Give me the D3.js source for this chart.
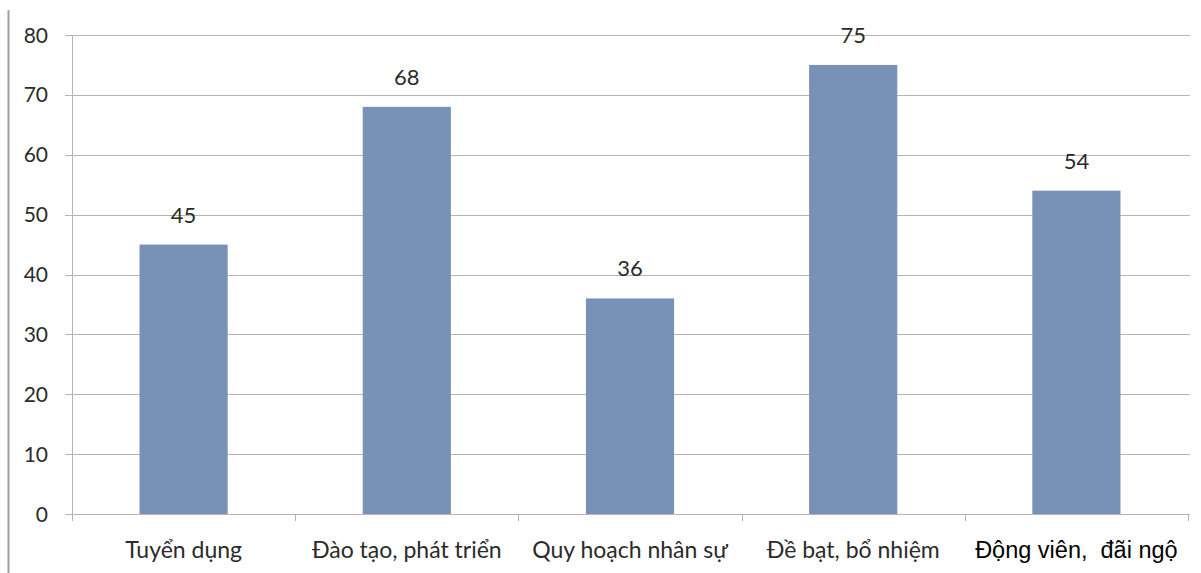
<!DOCTYPE html>
<html>
<head>
<meta charset="utf-8">
<script src="https://cdn.jsdelivr.net/npm/d3@7"></script>
<style>
  html, body { margin: 0; padding: 0; background: #fff; }
  svg { display: block; }
</style>
</head>
<body>
<svg id="chart" width="1201" height="573"></svg>
<script>
// Chart data
const categories = ["Tuyển dụng", "Đào tạo, phát triển", "Quy hoạch nhân sự", "Đề bạt, bổ nhiệm", "Động viên,  đãi ngộ"];
const values = [45, 68, 36, 75, 54];
const yTicks = [0, 10, 20, 30, 40, 50, 60, 70, 80];

const svg = d3.select("#chart");
const W = 1201, H = 573;
const m = { left: 72, right: 13, top: 35, bottom: 59 };

const x = d3.scaleBand()
  .domain(categories)
  .range([m.left, W - m.right])
  .paddingInner(0.605)
  .paddingOuter(0.3025);

const y = d3.scaleLinear()
  .domain([0, 80])
  .range([H - m.bottom, m.top]);

const textFont = "Lato, 'Open Sans', sans-serif";

// Left frame line
svg.append("line")
  .attr("x1", 8.5).attr("x2", 8.5)
  .attr("y1", 10).attr("y2", H)
  .attr("stroke", "#a8a0a0").attr("stroke-width", 2);

// Horizontal gridlines with tick marks extending left
svg.append("g")
  .selectAll("line")
  .data(yTicks)
  .join("line")
  .attr("x1", m.left - 7)
  .attr("x2", W - m.right + 2)
  .attr("y1", d => Math.round(y(d)) + 0.5)
  .attr("y2", d => Math.round(y(d)) + 0.5)
  .attr("stroke", "#bab3b3")
  .attr("stroke-width", 1);

// Y axis labels
svg.append("g")
  .selectAll("text")
  .data(yTicks)
  .join("text")
  .attr("x", 48)
  .attr("y", d => y(d))
  .attr("dy", "0.36em")
  .attr("text-anchor", "end")
  .attr("font-family", textFont)
  .attr("font-size", 21)
  .attr("fill", "#2b2b2b")
  .text(d => d);

// Y axis line
svg.append("line")
  .attr("x1", m.left + 0.5).attr("x2", m.left + 0.5)
  .attr("y1", y(80)).attr("y2", y(0) + 6)
  .attr("stroke", "#bab3b3");

// Category boundary ticks
const bounds = d3.range(categories.length + 1).map(i => m.left + i * (W - m.right - m.left) / categories.length);
svg.append("g")
  .selectAll("line")
  .data(bounds)
  .join("line")
  .attr("x1", d => Math.round(d) + 0.5)
  .attr("x2", d => Math.round(d) + 0.5)
  .attr("y1", y(0))
  .attr("y2", y(0) + 7)
  .attr("stroke", "#bab3b3");

// Bars
svg.append("g")
  .selectAll("rect")
  .data(values)
  .join("rect")
  .attr("x", (d, i) => x(categories[i]))
  .attr("y", d => y(d))
  .attr("width", x.bandwidth())
  .attr("height", d => y(0) - y(d))
  .attr("fill", "#7891b6");

// Value labels
svg.append("g")
  .selectAll("text")
  .data(values)
  .join("text")
  .attr("x", (d, i) => x(categories[i]) + x.bandwidth() / 2)
  .attr("y", d => y(d) - 22)
  .attr("text-anchor", "middle")
  .attr("font-family", textFont)
  .attr("font-size", 22)
  .attr("fill", "#2b2b2b")
  .text(d => d);

// Category labels
const last = categories.length - 1;
svg.append("g")
  .selectAll("text")
  .data(categories)
  .join("text")
  .attr("x", d => x(d) + x.bandwidth() / 2)
  .attr("y", 558)
  .attr("text-anchor", "middle")
  .attr("font-family", (d, i) => i === last ? "'Liberation Sans', Arial, sans-serif" : textFont)
  .attr("font-size", (d, i) => i === last ? 23.5 : 23)
  .attr("fill", (d, i) => i === last ? "#000" : "#2b2b2b")
  .style("white-space", "pre")
  .attr("xml:space", "preserve")
  .text(d => d);
</script>
</body>
</html>
